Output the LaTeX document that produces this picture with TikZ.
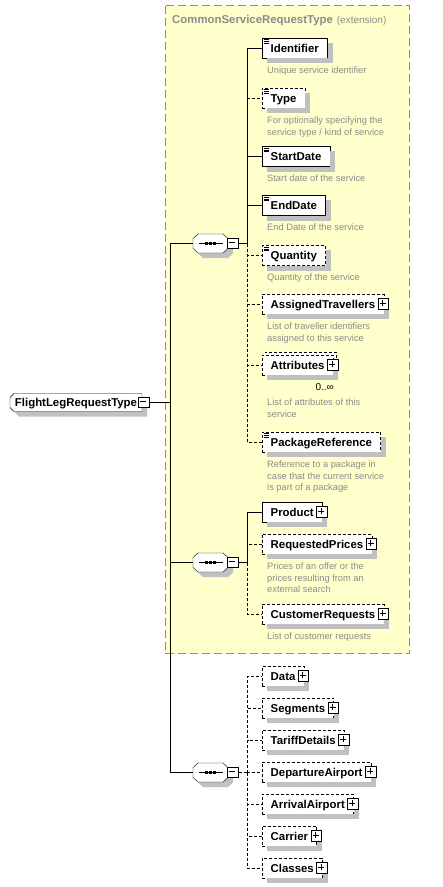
\documentclass[tikz,border=0pt]{standalone}
\usepackage{fontspec}
\setmainfont{Liberation Sans}

\definecolor{extfill}{RGB}{255,255,204}
\definecolor{extline}{RGB}{140,140,140}
\definecolor{doctext}{RGB}{140,140,140}
\definecolor{shadowgray}{RGB}{192,192,192}

\pgfdeclarelayer{background}
\pgfsetlayers{background,main}

\tikzset{
  elem/.style={draw, fill=white, anchor=west, minimum height=20pt,
    inner xsep=8.5pt, inner ysep=0pt, text height=8.2pt, text depth=0pt,
    font=\fontsize{11.4}{13}\selectfont\bfseries},
  castline/.style={draw=shadowgray, line width=5pt, solid},
  optional/.style={dash pattern=on 3pt off 2pt},
  leaf/.style={path picture={
    \foreach \k in {1.6,3.4,5.2}
      \draw[solid, line width=0.8pt] ([xshift=1.5pt, yshift=-\k pt]path picture bounding box.north west) -- ++(5.5pt,0pt);}},
  stacked/.style={preaction={draw, fill=white, dash pattern=on 3pt off 2pt,
    transform canvas={shift={(3pt,3pt)}}}},
  expander/.style={draw, solid, fill=white, minimum size=10.5pt, inner sep=0pt, line width=0.8pt},
  plusbox/.style={expander, path picture={
    \fill (path picture bounding box.south west) rectangle ([yshift=1.8pt]path picture bounding box.south east);
    \fill ([xshift=-1.8pt]path picture bounding box.north east) rectangle (path picture bounding box.south east);
    \draw[line width=0.9pt] ([xshift=-3.7pt, yshift=0.7pt]path picture bounding box.center) -- ([xshift=2.3pt, yshift=0.7pt]path picture bounding box.center)
      ([xshift=-0.7pt, yshift=-2.3pt]path picture bounding box.center) -- ([xshift=-0.7pt, yshift=3.7pt]path picture bounding box.center);}},
  minusbox/.style={expander, path picture={
    \fill (path picture bounding box.south west) rectangle ([yshift=1.8pt]path picture bounding box.south east);
    \fill ([xshift=-1.8pt]path picture bounding box.north east) rectangle (path picture bounding box.south east);
    \draw[line width=0.9pt] ([xshift=-3.7pt, yshift=0.7pt]path picture bounding box.center) -- ([xshift=2.3pt, yshift=0.7pt]path picture bounding box.center);}},
  root/.style={anchor=west, minimum height=18pt, inner xsep=5pt, inner ysep=0pt, outer sep=0pt,
    text height=8.2pt, text depth=0pt, font=\fontsize{11.4}{13}\selectfont\bfseries},
  rootpath/.style={insert path={([xshift=4pt]#1.north west) -- (#1.north east) -- (#1.south east)
    -- ([xshift=4pt]#1.south west) -- ([yshift=4pt]#1.south west) -- ([yshift=-4pt]#1.north west) -- cycle}},
  seq/.style={minimum width=35pt, minimum height=19pt, inner sep=0pt, outer sep=0pt},
  seqpath/.style={insert path={([xshift=5pt]#1.north west) -- ([xshift=-5pt]#1.north east)
    -- ([yshift=-4.5pt]#1.north east) -- ([yshift=4.5pt]#1.south east) -- ([xshift=-5pt]#1.south east)
    -- ([xshift=5pt]#1.south west) -- ([yshift=4.5pt]#1.south west) -- ([yshift=-4.5pt]#1.north west) -- cycle}},
  castshadow/.style={shadowgray, transform canvas={shift={(5pt,-5pt)}}},
  doc/.style={anchor=north west, inner sep=0pt, align=left, text=doctext,
    font=\fontsize{9.3}{11.6}\selectfont},
  occurs/.style={anchor=base east, inner sep=0pt, font=\fontsize{10}{12}\selectfont},
  link/.style={draw},
  optlink/.style={draw, dash pattern=on 3pt off 2pt}
}

% element box and the grey shadow strips on its right and bottom
\newcommand{\elembox}[4][]{%
  \node[elem, #1] (#2) at (#3) {#4};
  \path[castline] ([xshift=2.5pt, yshift=-5pt]#2.north east) -- ([xshift=2.5pt, yshift=-5pt]#2.south east)
    ([xshift=5pt, yshift=-2.5pt]#2.south west) -- ([xshift=5pt, yshift=-2.5pt]#2.south east)}

\begin{document}
\begin{tikzpicture}[x=1pt, y=1pt, line width=0.9pt]
  \useasboundingbox (0,0) rectangle (443,-887);

  % the inherited part
  \begin{pgfonlayer}{background}
    \draw[extline, fill=extfill, dash pattern=on 8pt off 4pt] (165.5,-5.5) rectangle (409.5,-653.5);
  \end{pgfonlayer}
  \node[anchor=base west, inner sep=0pt, text=doctext] (exttitle) at (172,-23)
    {\fontsize{11.4}{13}\selectfont\bfseries CommonServiceRequestType\hspace{4pt}\mdseries\fontsize{10}{12}\selectfont(extension)};

  % root and compositors
  \node[root] (flight) at (10,-402.5) {FlightLegRequestType\hspace{7pt}};
  \node[seq] (seqA) at (210.5,-243.5) {};
  \node[seq] (seqB) at (210.5,-562.5) {};
  \node[seq] (seqC) at (210.5,-772.5) {};
  \begin{pgfonlayer}{background}
    \fill[castshadow, rootpath=flight];
    \draw[fill=white, rootpath=flight];
    \foreach \s in {seqA, seqB, seqC}{
      \fill[castshadow, seqpath=\s];
      \draw[fill=white, seqpath=\s];
      \draw (\s.center) +(-12pt,0) -- +(12pt,0);
      \foreach \d in {-4,0,4}
        \fill ([xshift=\d pt]\s.center) +(-1.3pt,-1.3pt) rectangle +(1.3pt,1.3pt);
    }
  \end{pgfonlayer}
  \node[minusbox] (flightx) at ([xshift=2pt]flight.east) {};
  \node[minusbox] (seqAx) at ([xshift=5pt]seqA.east) {};
  \node[minusbox] (seqBx) at ([xshift=5pt]seqB.east) {};
  \node[minusbox] (seqCx) at ([xshift=5pt]seqC.east) {};

  % first sequence
  \elembox[leaf]{ident}{262,-48}{Identifier};
  \node[doc] (identdoc) at (267,-66.5) {Unique service identifier};
  \elembox[optional, leaf]{type}{262,-98}{Type};
  \node[doc] (typedoc) at (267,-116.5) {For optionally specifying the\\service type / kind of service};
  \elembox[leaf]{startdate}{262,-156.5}{StartDate};
  \node[doc] (startdatedoc) at (267,-175) {Start date of the service};
  \elembox[leaf]{enddate}{262,-205.5}{EndDate};
  \node[doc] (enddatedoc) at (267,-224) {End Date of the service};
  \elembox[optional, leaf]{qty}{262,-255.5}{Quantity};
  \node[doc] (qtydoc) at (267,-274) {Quantity of the service};
  \elembox[optional]{travellers}{262,-304}{AssignedTravellers\hspace{7pt}};
  \node[plusbox] (travellersx) at ([xshift=-0.5pt]travellers.east) {};
  \node[doc] (travellersdoc) at (267,-322.5) {List of traveller identifiers\\assigned to this service};
  \elembox[optional, stacked]{attr}{262,-365}{Attributes\hspace{7pt}};
  \node[plusbox] (attrx) at ([xshift=-0.5pt]attr.east) {};
  \node[occurs] (attrocc) at (334,-390.5) {0..∞};
  \node[doc] (attrdoc) at (267,-399) {List of attributes of this\\service};
  \elembox[optional, leaf]{pkg}{262,-442}{PackageReference};
  \node[doc] (pkgdoc) at (267,-460.5) {Reference to a package in\\case that the current service\\is part of a package};

  \coordinate (busA) at ([xshift=9pt]seqAx.east);
  \draw[link] (seqAx.east) -- (busA);
  \foreach \n in {type, qty, travellers, attr, pkg}
    \draw[optlink] (busA) |- (\n.west);
  \foreach \n in {ident, startdate, enddate}
    \draw[link] (busA) |- (\n.west);

  % second sequence
  \elembox{product}{262,-512}{Product\hspace{7pt}};
  \node[plusbox] (productx) at ([xshift=-0.5pt]product.east) {};
  \elembox[optional]{prices}{262,-544}{RequestedPrices\hspace{7pt}};
  \node[plusbox] (pricesx) at ([xshift=-0.5pt]prices.east) {};
  \node[doc] (pricesdoc) at (267,-562.5) {Prices of an offer or the\\prices resulting from an\\external search};
  \elembox[optional]{custreq}{262,-614}{CustomerRequests\hspace{7pt}};
  \node[plusbox] (custreqx) at ([xshift=-0.5pt]custreq.east) {};
  \node[doc] (custreqdoc) at (267,-632.5) {List of customer requests};

  \coordinate (busB) at ([xshift=9pt]seqBx.east);
  \draw[link] (seqBx.east) -- (busB);
  \foreach \n in {prices, custreq}
    \draw[optlink] (busB) |- (\n.west);
  \draw[link] (busB) |- (product.west);

  % third sequence
  \coordinate (busC) at ([xshift=9pt]seqCx.east);
  \draw[optlink] (seqCx.east) -- (busC);
  \foreach \name/\gap [count=\i] in {Data/10, Segments/7, TariffDetails/7, DepartureAirport/7,
      ArrivalAirport/7, Carrier/7, Classes/7}{
    \elembox[optional]{last\i}{262,-644-32*\i}{\name\hspace{\gap pt}};
    \node[plusbox] (lastx\i) at ([xshift=-0.5pt]last\i.east) {};
    \draw[optlink] (busC) |- (last\i.west);
  }

  % trunk
  \draw[link] (flightx.east) -- ++(21,0) coordinate (trunk);
  \foreach \s in {seqA, seqB, seqC}
    \draw[link] (trunk) |- (\s.west);
\end{tikzpicture}
\end{document}
